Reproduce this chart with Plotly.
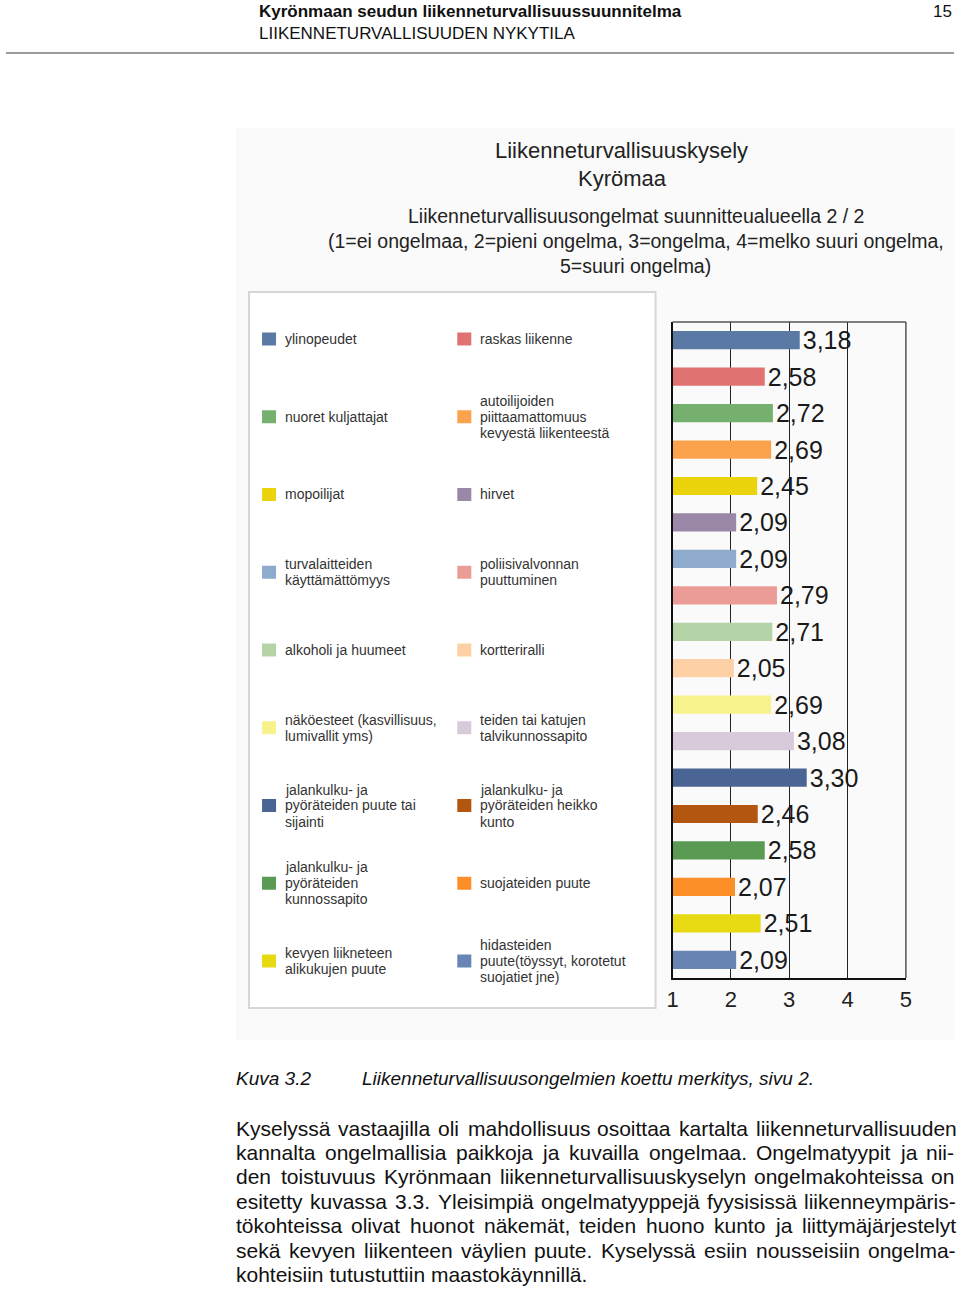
import plotly.graph_objects as go

# ---------------- data ----------------
categories = [
    "ylinopeudet",
    "raskas liikenne",
    "nuoret kuljattajat",
    "autoilijoiden<br>piittaamattomuus<br>kevyestä liikenteestä",
    "mopoilijat",
    "hirvet",
    "turvalaitteiden<br>käyttämättömyys",
    "poliisivalvonnan<br>puuttuminen",
    "alkoholi ja huumeet",
    "kortteriralli",
    "näköesteet (kasvillisuus,<br>lumivallit yms)",
    "teiden tai katujen<br>talvikunnossapito",
    "jalankulku- ja<br>pyöräteiden puute tai<br>sijainti",
    "jalankulku- ja<br>pyöräteiden heikko<br>kunto",
    "jalankulku- ja<br>pyöräteiden<br>kunnossapito",
    "suojateiden puute",
    "kevyen liikneteen<br>alikukujen puute",
    "hidasteiden<br>puute(töyssyt, korotetut<br>suojatiet jne)",
]
values = [3.18, 2.58, 2.72, 2.69, 2.45, 2.09, 2.09, 2.79, 2.71,
          2.05, 2.69, 3.08, 3.30, 2.46, 2.58, 2.07, 2.51, 2.09]
colors = ["#5b79a5", "#e07272", "#76b06f", "#fba24c", "#ebd40c", "#9b88a9",
          "#8eaacc", "#ec9c97", "#b4d4a8", "#fdd1a5", "#f8f28c", "#d8cadb",
          "#4a6593", "#b3560f", "#5a9a53", "#fc8f28", "#e8da12", "#6885b3"]
x_ticks = [1, 2, 3, 4, 5]

title_lines = ["Liikenneturvallisuuskysely", "Kyrömaa"]
subtitle_lines = ["Liikenneturvallisuusongelmat suunnitteualueella 2 / 2",
                  "(1=ei ongelmaa, 2=pieni ongelma, 3=ongelma, 4=melko suuri ongelma,",
                  "5=suuri ongelma)"]
header_bold = "Kyrönmaan seudun liikenneturvallisuussuunnitelma"
header_sub = "LIIKENNETURVALLISUUDEN NYKYTILA"
page_no = "15"
caption_label = "Kuva 3.2"
caption_text = "Liikenneturvallisuusongelmien koettu merkitys, sivu 2."
paragraph_lines = [
    "Kyselyssä vastaajilla oli mahdollisuus osoittaa kartalta liikenneturvallisuuden",
    "kannalta ongelmallisia paikkoja ja kuvailla ongelmaa. Ongelmatyypit ja nii-",
    "den toistuvuus Kyrönmaan liikenneturvallisuuskyselyn ongelmakohteissa on",
    "esitetty kuvassa 3.3. Yleisimpiä ongelmatyyppejä fyysisissä liikenneympäris-",
    "tökohteissa olivat huonot näkemät, teiden huono kunto ja liittymäjärjestelyt",
    "sekä kevyen liikenteen väylien puute. Kyselyssä esiin nousseisiin ongelma-",
    "kohteisiin tutustuttiin maastokäynnillä.",
]

# ---------------- layout helpers ----------------
W, H = 960, 1289
FONT = "Liberation Sans, Arial, Helvetica, sans-serif"
# horizontal calibration of page pixels to the photographed picture
HX_SCALE, HX_OFF = 0.9862, 7.3


def hx(x):
    return (x - HX_OFF) / HX_SCALE


def px(x):
    return hx(x) / W


def py(y):
    return 1 - y / H


AW = {' ': 278, ',': 278, '-': 333, '.': 278, '/': 278, ':': 278, ';': 278,
      '(': 333, ')': 333, '=': 584}
for ch in "0123456789":
    AW[ch] = 556
AW.update(dict(A=667, B=667, C=722, D=722, E=667, F=611, G=778, H=722, I=278,
               J=500, K=667, L=556, M=833, N=722, O=778, P=667, Q=778, R=722,
               S=667, T=611, U=722, V=667, W=944, X=667, Y=667, Z=611))
AW.update(dict(a=556, b=556, c=500, d=556, e=556, f=278, g=556, h=556, i=222,
               j=222, k=500, l=222, m=833, n=556, o=556, p=556, q=556, r=333,
               s=500, t=278, u=556, v=500, w=722, x=500, y=500, z=500))
AW.update({'ä': 556, 'ö': 556, 'Ä': 667, 'Ö': 778})


def tw(s, size):
    return sum(AW.get(c, 556) for c in s) / 1000 * size * HX_SCALE


annotations = []
shapes = []


def add_text(text, x, y, size, xanchor="left", color="#1a1a1a", bold=False, italic=False):
    t = text
    if bold:
        t = "<b>" + t + "</b>"
    if italic:
        t = "<i>" + t + "</i>"
    annotations.append(dict(text=t, x=px(x), y=py(y), xref="paper", yref="paper",
                            xanchor=xanchor, yanchor="middle", showarrow=False,
                            borderpad=0, font=dict(family=FONT, size=size, color=color)))


# background of the chart image
shapes.append(dict(type="rect", xref="paper", yref="paper", x0=px(237), x1=1,
                   y0=py(1040), y1=py(128), fillcolor="#fafafa", line=dict(width=0),
                   layer="below"))
# legend box
shapes.append(dict(type="rect", xref="paper", yref="paper", x0=px(250), x1=px(656),
                   y0=py(1008), y1=py(292), fillcolor="#ffffff",
                   line=dict(color="#d6d6d6", width=2), layer="below"))
# header rule
shapes.append(dict(type="line", xref="paper", yref="paper", x0=0, x1=1,
                   y0=py(53), y1=py(53), line=dict(color="#9a9a9a", width=2)))

# top and right frame of the plot area (lighter than the axes)
PX0, PX1, PY0, PY1 = 673, 906, 322, 978
shapes.append(dict(type="line", xref="paper", yref="paper", x0=px(PX0), x1=px(PX1),
                   y0=py(PY0), y1=py(PY0), line=dict(color="#555", width=1.5)))
shapes.append(dict(type="line", xref="paper", yref="paper", x0=px(PX1), x1=px(PX1),
                   y0=py(PY0), y1=py(PY1), line=dict(color="#555", width=1.5)))

# header
add_text(header_bold, 259, 11, 17, bold=True, color="#111")
add_text(header_sub, 259, 34, 17, color="#111")
add_text(page_no, 953, 11, 17, xanchor="right", color="#111")

# chart titles
add_text(title_lines[0], 622, 150, 22, xanchor="center", color="#222")
add_text(title_lines[1], 623, 179, 22, xanchor="center", color="#222")
for i, ln in enumerate(subtitle_lines):
    add_text(ln, 636, 216 + 25 * i, 19.5, xanchor="center", color="#222")

# legend (custom, two columns)
for i, cat in enumerate(categories):
    col, row = i % 2, i // 2
    yc = 339 + row * 77.75
    mx = 263 if col == 0 else 458
    tx = 285 if col == 0 else 480
    shapes.append(dict(type="rect", xref="paper", yref="paper", x0=px(mx), x1=px(mx + 14),
                       y0=py(yc + 6.5), y1=py(yc - 6.5), fillcolor=colors[i],
                       line=dict(width=0)))
    lines = cat.split("<br>")
    n = len(lines)
    for j, ln in enumerate(lines):
        add_text(ln, tx, yc + (j - (n - 1) / 2) * 16, 14, color="#333")

# caption
add_text(caption_label, 236, 1078, 19, italic=True, color="#111")
add_text(caption_text, 362, 1078, 19, italic=True, color="#111")

# justified paragraph
PSIZE = 21
left, right = 236, 953
for k, ln in enumerate(paragraph_lines):
    yl = 1128 + k * 24.4
    words = ln.split(" ")
    if k == len(paragraph_lines) - 1:
        add_text(ln, left, yl, PSIZE, color="#111")
        continue
    wws = [tw(w, PSIZE) for w in words]
    gap = (right - left - sum(wws)) / (len(words) - 1)
    x = left
    for w, ww in zip(words, wws):
        add_text(w, x, yl, PSIZE, color="#111")
        x += ww + gap

# ---------------- figure ----------------
fig = go.Figure(go.Bar(
    x=values, y=categories, orientation="h",
    marker=dict(color=colors, line=dict(width=0)),
    width=0.5,
    texttemplate="%{x:.2f}", textposition="outside",
    textfont=dict(family=FONT, size=25, color="#1a1a1a"),
    constraintext="none", cliponaxis=False,
    showlegend=False, hoverinfo="skip",
))

fig.update_layout(
    width=W, height=H,
    margin=dict(l=0, r=0, t=0, b=0),
    paper_bgcolor="#ffffff", plot_bgcolor="#ffffff",
    separators=", ",
    showlegend=False,
    xaxis=dict(domain=[px(PX0), px(PX1)], range=[1, 5], tickvals=x_ticks,
               ticktext=[str(t) for t in x_ticks],
               showgrid=True, gridcolor="#222", gridwidth=1,
               showline=True, linecolor="#111", linewidth=2, mirror=False,
               zeroline=False, ticks="", ticklabelstandoff=1,
               tickfont=dict(family=FONT, size=22, color="#222")),
    yaxis=dict(domain=[py(PY1), py(PY0)], type="category",
               categoryorder="array", categoryarray=categories,
               autorange="reversed", showticklabels=False, showgrid=False,
               showline=True, linecolor="#111", linewidth=2, mirror=False,
               ticks="", zeroline=False),
    annotations=annotations,
    shapes=shapes,
)

fig.write_html(
    "out.html",
    config={"displayModeBar": False},
    post_script="document.body.style.margin='0px';document.body.style.overflow='hidden';",
)
